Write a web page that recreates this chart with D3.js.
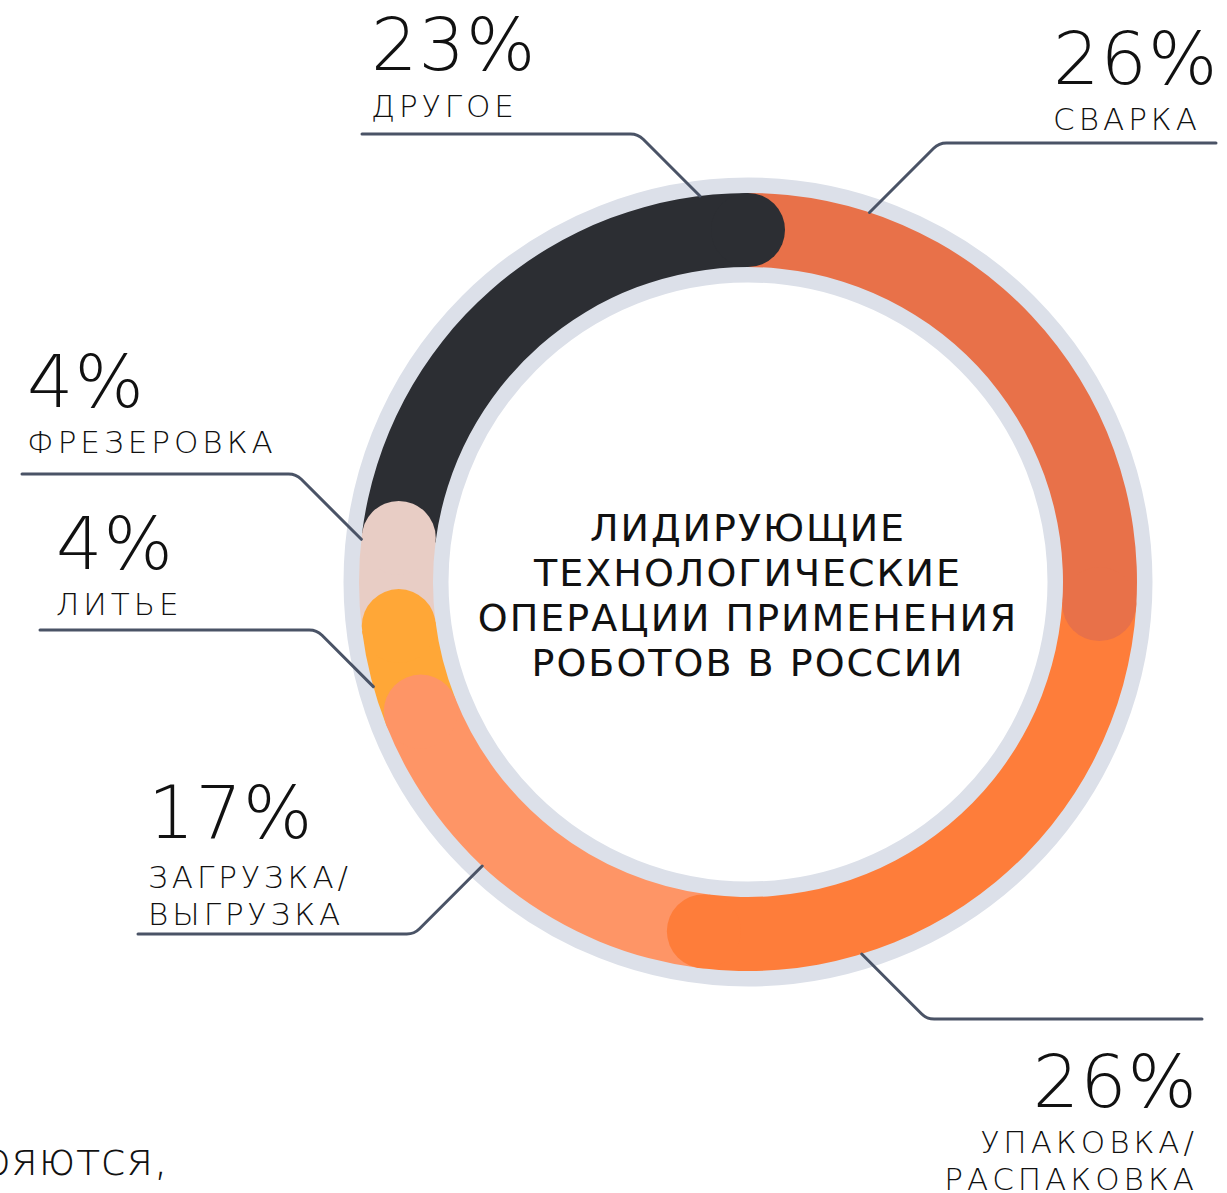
<!DOCTYPE html>
<html>
<head>
<meta charset="utf-8">
<script src="https://cdn.jsdelivr.net/npm/d3@7"></script>
<style>
  html, body { margin: 0; padding: 0; background: #fff; }
  svg { display: block; }
  .pct { font-family: 'DejaVu Sans', sans-serif; font-weight: 200; font-size: 73px; letter-spacing: 1px; fill: #111; }
  .cat { font-family: 'DejaVu Sans', sans-serif; font-weight: 200; font-size: 31px; letter-spacing: 4px; fill: #111; }
  .title { font-family: 'DejaVu Sans', sans-serif; font-weight: 500; font-size: 38px; letter-spacing: 2px; fill: #111; }
  .body { font-family: 'DejaVu Sans', sans-serif; font-weight: 200; font-size: 46px; fill: #111; }
</style>
</head>
<body>
<svg id="chart" width="1227" height="1193"></svg>
<script>
// clockwise from 12 o'clock
const categories = ['СВАРКА', 'УПАКОВКА/|РАСПАКОВКА', 'ЗАГРУЗКА/|ВЫГРУЗКА', 'ЛИТЬЕ', 'ФРЕЗЕРОВКА', 'ДРУГОЕ']
const shares = [26, 26, 17, 4, 4, 23]
const colors = ['#e87149', '#fe7d3a', '#fe9566', '#ffa737', '#e8cdc5', '#2c2e33']
const titleLines = ['ЛИДИРУЮЩИЕ', 'ТЕХНОЛОГИЧЕСКИЕ', 'ОПЕРАЦИИ ПРИМЕНЕНИЯ', 'РОБОТОВ В РОССИИ']

// label layout: where the leader touches the ring (deg), shelf y, shelf end x, text
const labelLayout = [
  {deg: 18.2, shelfY: 143, endX: 1216, x: 1053, anchor: 'start', pctY: 84, catY: 130},
  {deg: 163, shelfY: 1019, endX: 1202, x: 1198, anchor: 'end', pctY: 1107, catY: 1153},
  {deg: 223.1, shelfY: 934, endX: 138, x: 148, anchor: 'start', pctY: 838, catY: 888},
  {deg: 254.4, shelfY: 630, endX: 40, x: 56, anchor: 'start', pctY: 569, catY: 615},
  {deg: 276.3, shelfY: 474, endX: 22, x: 27, anchor: 'start', pctY: 407, catY: 453},
  {deg: 352.9, shelfY: 134, endX: 362, x: 371, anchor: 'start', pctY: 70, catY: 117}
]

const cx = 748, cy = 582
const rIn = 315, rOut = 389
const rMid = (rIn + rOut) / 2
const capR = (rOut - rIn) / 2

const svg = d3.select('#chart')
const g = svg.append('g').attr('transform', `translate(${cx},${cy})`)

// grey backing ring
g.append('circle')
  .attr('r', 352)
  .attr('fill', 'none')
  .attr('stroke', '#dce0e9')
  .attr('stroke-width', 105)

let pie = d3.pie().sort(null).value((d) => d)
let arcs = pie(shares)
let arc = d3.arc().innerRadius(rIn).outerRadius(rOut)

g.selectAll('.seg')
  .data(arcs)
  .enter()
  .append('path')
  .attr('class', 'seg')
  .attr('d', arc)
  .attr('fill', (d, i) => colors[i])

// rounded end of every segment, lying over the next one
g.selectAll('.cap')
  .data(arcs)
  .enter()
  .append('circle')
  .attr('class', 'cap')
  .attr('r', capR)
  .attr('cx', (d) => rMid * Math.sin(d.endAngle))
  .attr('cy', (d) => -rMid * Math.cos(d.endAngle))
  .attr('fill', (d, i) => colors[i])

// leader lines
labelLayout.forEach((l) => {
  let a = l.deg * Math.PI / 180
  let ax = cx + rOut * Math.sin(a)
  let ay = cy - rOut * Math.cos(a)
  let dy = Math.abs(l.shelfY - ay)
  let dir = l.endX > ax ? 1 : -1
  // 45 degree run out to the shelf, then along it
  let kx = ax + dir * dy
  let p = d3.path()
  p.moveTo(ax, ay)
  p.arcTo(kx, l.shelfY, l.endX, l.shelfY, 18)
  p.lineTo(l.endX, l.shelfY)
  svg.append('path')
    .attr('d', p.toString())
    .attr('fill', 'none')
    .attr('stroke', '#4a5366')
    .attr('stroke-width', 3)
    .attr('stroke-linecap', 'round')
})

// labels
labelLayout.forEach((l, i) => {
  svg.append('text')
    .attr('class', 'pct')
    .attr('x', l.x)
    .attr('y', l.pctY)
    .attr('text-anchor', l.anchor)
    .text(shares[i] + '%')
  categories[i].split('|').forEach((line, j) => {
    svg.append('text')
      .attr('class', 'cat')
      .attr('x', l.x)
      .attr('y', l.catY + j * 37)
      .attr('text-anchor', l.anchor)
      .text(line)
  })
})

// centre title
svg.append('g')
  .selectAll('text')
  .data(titleLines)
  .enter()
  .append('text')
  .attr('class', 'title')
  .attr('x', cx)
  .attr('y', (d, i) => 541 + i * 45)
  .attr('text-anchor', 'middle')
  .text((d) => d)

// body text cut by the left edge
svg.append('text')
  .attr('class', 'body')
  .attr('x', 168)
  .attr('y', 1175)
  .attr('text-anchor', 'end')
  .text('ояются,')
</script>
</body>
</html>
